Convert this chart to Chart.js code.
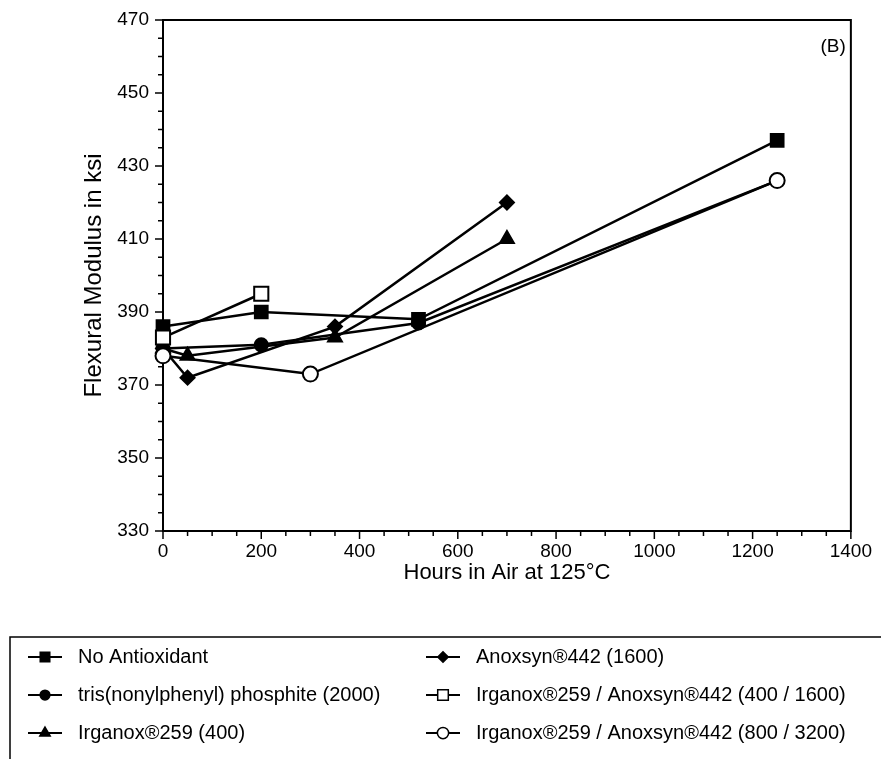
<!DOCTYPE html>
<html>
<head>
<meta charset="utf-8">
<script src="https://cdn.jsdelivr.net/npm/chart.js@4/dist/chart.umd.min.js"></script>
<style>
  html, body { margin: 0; background: #fff; }
  #wrap { width: 881px; height: 759px; position: relative; }
</style>
</head>
<body>
<div id="wrap"><canvas id="chart"></canvas></div>
<script>
// Data (hours in air at 125°C vs flexural modulus in ksi)
const seriesNames = [
  'No Antioxidant',
  'tris(nonylphenyl) phosphite (2000)',
  'Irganox®259 (400)',
  'Anoxsyn®442 (1600)',
  'Irganox®259 / Anoxsyn®442 (400 / 1600)',
  'Irganox®259 / Anoxsyn®442 (800 / 3200)'
];
const noAntioxHours = [0, 200, 520, 1250];
const noAntioxModulus = [386, 390, 388, 437];
const trisHours = [0, 200, 520, 1250];
const trisModulus = [380, 381, 387, 426];
const irg259Hours = [0, 50, 350, 700];
const irg259Modulus = [380, 378, 383, 410];
const anoxHours = [0, 50, 350, 700];
const anoxModulus = [380, 372, 386, 420];
const mix400Hours = [0, 200];
const mix400Modulus = [383, 395];
const mix800Hours = [0, 300, 1250];
const mix800Modulus = [378, 373, 426];

const yTicks = [330, 350, 370, 390, 410, 430, 450, 470];
const xTicks = [0, 200, 400, 600, 800, 1000, 1200, 1400];

const FONT = '"Liberation Sans", Arial, Helvetica, sans-serif';

function pts(xs, ys) {
  return xs.map((x, i) => ({ x: x, y: ys[i] }));
}

// marker look per series; lower "order" is drawn on top
const styles = [
  { pointStyle: 'rect', radius: 9, fill: '#000', order: 3 },
  { pointStyle: 'circle', radius: 6.5, fill: '#000', order: 6 },
  { pointStyle: 'triangle', radius: 8, fill: '#000', order: 5 },
  { pointStyle: 'rectRot', radius: 7, fill: '#000', order: 4 },
  { pointStyle: 'rect', radius: 10, fill: '#fff', order: 2 },
  { pointStyle: 'circle', radius: 7.5, fill: '#fff', order: 1 }
];

const seriesData = [
  pts(noAntioxHours, noAntioxModulus),
  pts(trisHours, trisModulus),
  pts(irg259Hours, irg259Modulus),
  pts(anoxHours, anoxModulus),
  pts(mix400Hours, mix400Modulus),
  pts(mix800Hours, mix800Modulus)
];

const datasets = seriesNames.map((name, i) => ({
  label: name,
  data: seriesData[i],
  order: styles[i].order,
  clip: false,
  showLine: true,
  borderColor: '#000',
  borderWidth: 2.5,
  backgroundColor: styles[i].fill,
  pointStyle: styles[i].pointStyle,
  pointRadius: styles[i].radius,
  pointHoverRadius: styles[i].radius,
  pointBorderColor: '#000',
  pointBorderWidth: 2,
  pointBackgroundColor: styles[i].fill,
  tension: 0
}));

// frame, minor/major ticks, panel label and the boxed legend
const decorations = {
  id: 'decorations',
  beforeDatasetsDraw(chart) {
    const ctx = chart.ctx;
    const a = chart.chartArea;
    const xs = chart.scales.x, ys = chart.scales.y;
    ctx.save();
    ctx.strokeStyle = '#000';
    ctx.lineWidth = 2;
    ctx.strokeRect(a.left, a.top, a.right - a.left, a.bottom - a.top);

    ctx.lineWidth = 1.5;
    ys.ticks.forEach(t => {
      const y = ys.getPixelForValue(t.value);
      const len = yTicks.includes(t.value) ? 8 : 5;
      ctx.beginPath();
      ctx.moveTo(a.left - len, y);
      ctx.lineTo(a.left, y);
      ctx.stroke();
    });
    xs.ticks.forEach(t => {
      const x = xs.getPixelForValue(t.value);
      const len = xTicks.includes(t.value) ? 8 : 5;
      ctx.beginPath();
      ctx.moveTo(x, a.bottom);
      ctx.lineTo(x, a.bottom + len);
      ctx.stroke();
    });

    ctx.fillStyle = '#000';
    ctx.font = '19px ' + FONT;
    ctx.textAlign = 'right';
    ctx.textBaseline = 'middle';
    ctx.fillText('(B)', a.right - 5, a.top + 27);
    ctx.restore();
  },
  afterDraw(chart) {
    const ctx = chart.ctx;
    ctx.save();
    // legend box (left and top edges only, as in the scan)
    ctx.strokeStyle = '#000';
    ctx.lineWidth = 1.5;
    ctx.beginPath();
    ctx.moveTo(10, 759);
    ctx.lineTo(10, 637);
    ctx.lineTo(881, 637);
    ctx.stroke();

    const rowY = [657, 695, 733];
    const colX = [45, 443];
    ctx.font = '20px ' + FONT;
    ctx.textAlign = 'left';
    ctx.textBaseline = 'middle';
    chart.data.datasets.forEach((ds, i) => {
      const col = Math.floor(i / 3), row = i % 3;
      const cx = colX[col], cy = rowY[row];
      ctx.strokeStyle = '#000';
      ctx.lineWidth = 2;
      ctx.beginPath();
      ctx.moveTo(cx - 17, cy);
      ctx.lineTo(cx + 17, cy);
      ctx.stroke();
      ctx.fillStyle = ds.pointBackgroundColor;
      ctx.lineWidth = 1.5;
      Chart.helpers.drawPoint(ctx, {
        pointStyle: ds.pointStyle,
        radius: ds.pointRadius * 0.75,
        borderWidth: 1.5,
        rotation: 0
      }, cx, cy);
      ctx.fillStyle = '#000';
      ctx.fillText(ds.label, cx + 33, cy);
    });
    ctx.restore();
  }
};

const ctx = document.getElementById('chart').getContext('2d');
new Chart(ctx, {
  type: 'scatter',
  data: { datasets: datasets },
  options: {
    responsive: true,
    maintainAspectRatio: false,
    animation: false,
    events: [],
    layout: { padding: { top: 20, right: 29, bottom: 168, left: 0 } },
    plugins: {
      legend: { display: false },
      tooltip: { enabled: false }
    },
    scales: {
      x: {
        type: 'linear',
        min: 0,
        max: 1400,
        afterFit: s => { s.height = 60; },
        grid: { display: false, drawTicks: false },
        border: { display: false },
        ticks: {
          stepSize: 50,
          autoSkip: false,
          maxRotation: 0,
          padding: 9,
          color: '#000',
          font: { family: FONT, size: 19 },
          callback: v => (xTicks.includes(v) ? String(v) : '')
        },
        title: {
          display: true,
          text: 'Hours in Air at 125°C',
          color: '#000',
          font: { family: FONT, size: 22 },
          padding: { top: 0, bottom: 5 }
        }
      },
      y: {
        type: 'linear',
        min: 330,
        max: 470,
        afterFit: s => { s.width = 163; s.paddingTop = 0; s.paddingBottom = 0; },
        grid: { display: false, drawTicks: false },
        border: { display: false },
        ticks: {
          stepSize: 5,
          autoSkip: false,
          padding: 14,
          color: '#000',
          font: { family: FONT, size: 19 },
          callback: v => (yTicks.includes(v) ? String(v) : '')
        },
        title: {
          display: true,
          text: 'Flexural Modulus in ksi',
          color: '#000',
          font: { family: FONT, size: 24 },
          padding: { top: 80, bottom: 0 }
        }
      }
    }
  },
  plugins: [decorations]
});
</script>
</body>
</html>
